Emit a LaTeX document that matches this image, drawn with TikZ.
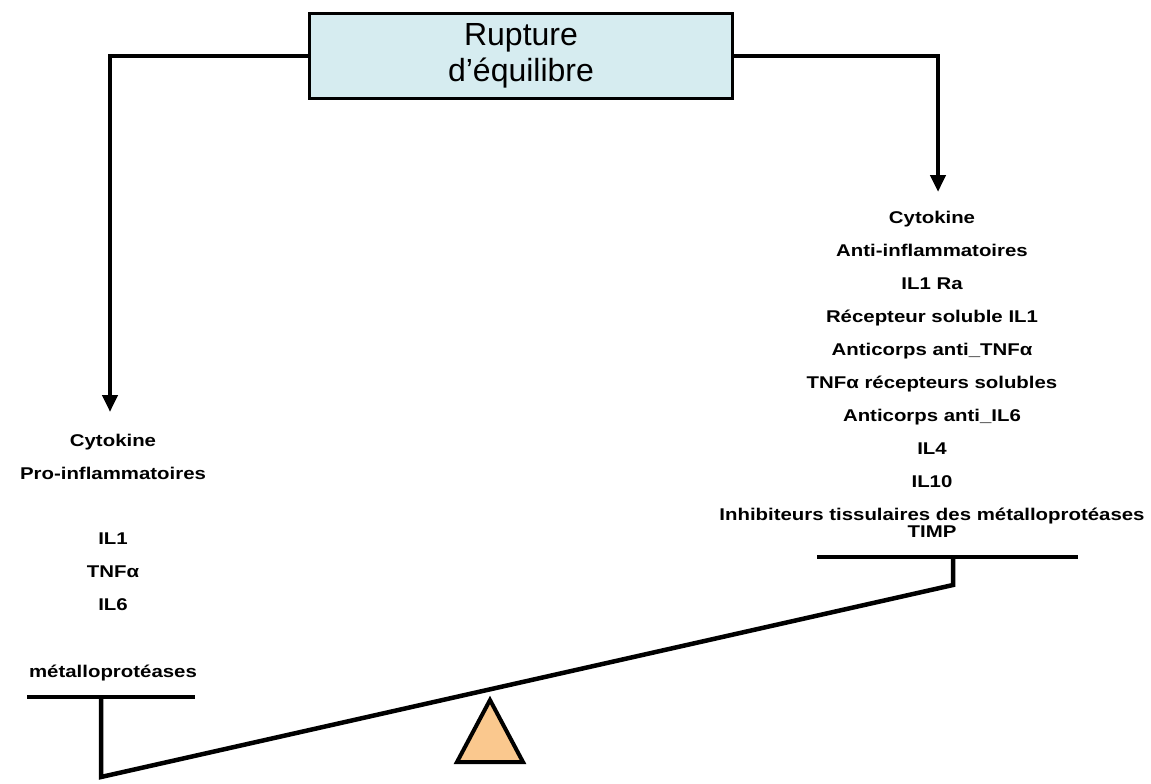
\documentclass[tikz,border=0pt]{standalone}
\usepackage{fontspec}
\setmainfont{Liberation Sans}
\newfontfamily\widesans[FakeStretch=1.2]{Liberation Sans}
\usepackage{tikz}
\usetikzlibrary{arrows.meta}
\definecolor{boxblue}{RGB}{214,236,240}
\definecolor{peach}{RGB}{250,200,142}

\begin{document}
\begin{tikzpicture}[x=1pt,y=-1pt,line width=4.5pt,
  every node/.style={align=center,inner sep=0pt,font=\widesans\bfseries\fontsize{17}{33}\selectfont},
  arr/.style={-{Triangle[width=15pt,length=17pt]}}]
\useasboundingbox (0,0) rectangle (1151,784);
% Box
\node[draw,line width=3pt,fill=boxblue,minimum width=423pt,minimum height=85pt,
  font=\fontsize{32}{36}\selectfont] (rupt) at (521,56) {Rupture\\d’équilibre};
% Arrows
\coordinate (lend) at (110,412);
\coordinate (rend) at (938,192);
\draw[arr] (rupt.west) -| (lend);
\draw[arr] (rupt.east) -| (rend);
% Texts
\node (pro) at (113,558) {Cytokine\\Pro-inflammatoires\\[32pt]IL1\\TNFα\\IL6\\[34pt]métalloprotéases};
\node (anti) at (932,374) {Cytokine\\Anti-inflammatoires\\IL1 Ra\\Récepteur soluble IL1\\Anticorps anti\_TNFα\\TNFα récepteurs solubles\\Anticorps anti\_IL6\\IL4\\IL10\\Inhibiteurs tissulaires des métalloprotéases\\[-16pt]TIMP};
% Balance
\coordinate (lpl) at (27,697);
\coordinate (lpr) at (195,697);
\coordinate (ltop) at (101,697);
\coordinate (lfoot) at (101,777);
\coordinate (rfoot) at (953,585);
\coordinate (rtop) at (953,557);
\coordinate (rpl) at (817,557);
\coordinate (rpr) at (1078,557);
\draw (lpl) -- (lpr);
\draw (rpl) -- (rpr);
\draw (ltop) -- (lfoot) -- (rfoot) -- (rtop);
\draw[fill=peach,line width=4pt] (457,762) -- (490,700) -- (523,762) -- cycle;
\end{tikzpicture}
\end{document}
